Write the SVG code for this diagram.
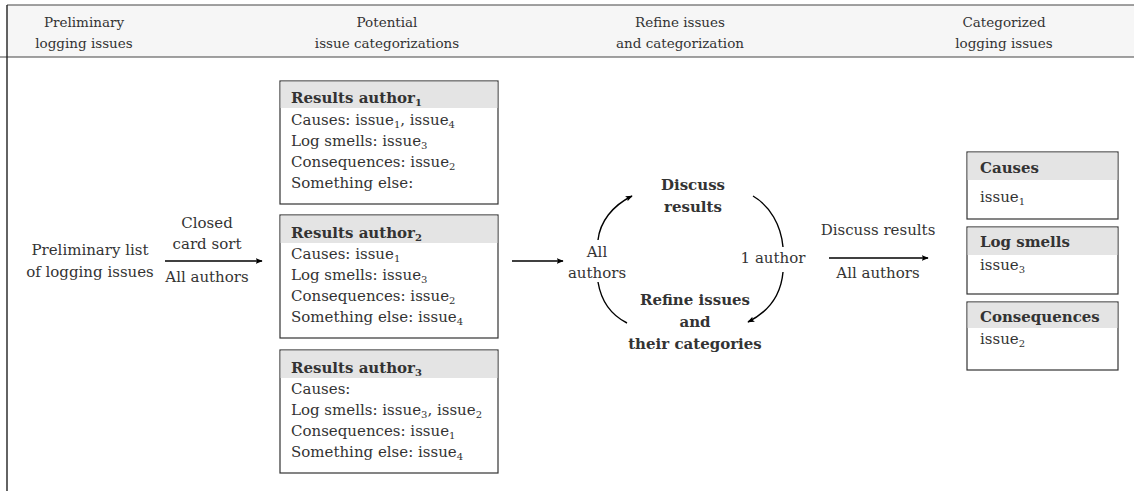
<svg xmlns="http://www.w3.org/2000/svg" width="1134" height="491" viewBox="0 0 1134 491">
<style>
text{font-family:"DejaVu Serif","Liberation Serif",serif;fill:#333;font-size:15px}
.hd{font-size:13.5px;text-anchor:middle}
.c{text-anchor:middle}
.b{font-weight:bold}
.box{fill:#fff;stroke:#333;stroke-width:1.2}
.bh{fill:#e4e4e4}
.ln{fill:none;stroke:#000;stroke-width:1.4}
.sb{font-size:10px}
</style>
<defs>
<marker id="ah" viewBox="0 0 10 10" refX="9" refY="5" markerWidth="7" markerHeight="7" orient="auto" markerUnits="userSpaceOnUse">
<path d="M0,1 L10,5 L0,9 L2,5 z" fill="#000"/>
</marker>
</defs>
<g id="header">
<rect x="7" y="5" width="1127" height="52" fill="#f6f6f6"/>
<line x1="7" y1="5" x2="1134" y2="5" stroke="#444" stroke-width="1.2"/>
<line x1="0" y1="57" x2="1134" y2="57" stroke="#444" stroke-width="1.2"/>
<line x1="7" y1="5" x2="7" y2="491" stroke="#222" stroke-width="1.4"/>
<text class="hd" x="84" y="27">Preliminary</text>
<text class="hd" x="84" y="48">logging issues</text>
<text class="hd" x="387" y="27">Potential</text>
<text class="hd" x="387" y="48">issue categorizations</text>
<text class="hd" x="680" y="27">Refine issues</text>
<text class="hd" x="680" y="48">and categorization</text>
<text class="hd" x="1004" y="27">Categorized</text>
<text class="hd" x="1004" y="48">logging issues</text>
</g>
<g id="prelim">
<text class="c" x="90" y="255">Preliminary list</text>
<text class="c" x="90" y="277">of logging issues</text>
</g>
<g id="author1">
<rect class="box" x="280" y="81" width="218" height="123"/>
<rect class="bh" x="280.6" y="81.6" width="216.8" height="26.4"/>
<text class="b" x="291" y="103">Results author<tspan class="sb" dy="3">1</tspan></text>
<text x="291" y="125">Causes: issue<tspan class="sb" dy="3">1</tspan><tspan dy="-3">, issue</tspan><tspan class="sb" dy="3">4</tspan></text>
<text x="291" y="146">Log smells: issue<tspan class="sb" dy="3">3</tspan></text>
<text x="291" y="167">Consequences: issue<tspan class="sb" dy="3">2</tspan></text>
<text x="291" y="188">Something else:</text>
</g>
<g id="author2">
<rect class="box" x="280" y="215" width="218" height="123"/>
<rect class="bh" x="280.6" y="215.6" width="216.8" height="27.4"/>
<text class="b" x="291" y="238">Results author<tspan class="sb" dy="3">2</tspan></text>
<text x="291" y="259">Causes: issue<tspan class="sb" dy="3">1</tspan></text>
<text x="291" y="280">Log smells: issue<tspan class="sb" dy="3">3</tspan></text>
<text x="291" y="301">Consequences: issue<tspan class="sb" dy="3">2</tspan></text>
<text x="291" y="322">Something else: issue<tspan class="sb" dy="3">4</tspan></text>
</g>
<g id="author3">
<rect class="box" x="280" y="350" width="218" height="123"/>
<rect class="bh" x="280.6" y="350.6" width="216.8" height="27.4"/>
<text class="b" x="291" y="373">Results author<tspan class="sb" dy="3">3</tspan></text>
<text x="291" y="394">Causes:</text>
<text x="291" y="415">Log smells: issue<tspan class="sb" dy="3">3</tspan><tspan dy="-3">, issue</tspan><tspan class="sb" dy="3">2</tspan></text>
<text x="291" y="436">Consequences: issue<tspan class="sb" dy="3">1</tspan></text>
<text x="291" y="457">Something else: issue<tspan class="sb" dy="3">4</tspan></text>
</g>
<g id="discuss">
<text class="c b" x="693" y="190">Discuss</text>
<text class="c b" x="693" y="212">results</text>
</g>
<g id="refine">
<text class="c b" x="695" y="305">Refine issues</text>
<text class="c b" x="695" y="327">and</text>
<text class="c b" x="695" y="349">their categories</text>
</g>
<g id="cat-causes">
<rect class="box" x="967" y="152" width="151" height="67"/>
<rect class="bh" x="967.6" y="152.6" width="149.8" height="27.4"/>
<text class="b" x="980" y="173">Causes</text>
<text x="980" y="202">issue<tspan class="sb" dy="3">1</tspan></text>
</g>
<g id="cat-smells">
<rect class="box" x="967" y="227" width="151" height="67"/>
<rect class="bh" x="967.6" y="227.6" width="149.8" height="27.4"/>
<text class="b" x="980" y="247">Log smells</text>
<text x="980" y="270">issue<tspan class="sb" dy="3">3</tspan></text>
</g>
<g id="cat-conseq">
<rect class="box" x="967" y="302" width="151" height="68"/>
<rect class="bh" x="967.6" y="302.6" width="149.8" height="25.4"/>
<text class="b" x="980" y="322">Consequences</text>
<text x="980" y="344">issue<tspan class="sb" dy="3">2</tspan></text>
</g>
<g id="connectors">
<line class="ln" x1="165" y1="261" x2="262" y2="261" marker-end="url(#ah)"/>
<text class="c" x="207" y="228">Closed</text>
<text class="c" x="207" y="249">card sort</text>
<text class="c" x="207" y="282">All authors</text>
<line class="ln" x1="512" y1="261" x2="563" y2="261" marker-end="url(#ah)"/>
<text class="c" x="597" y="257">All</text>
<text class="c" x="597" y="278">authors</text>
<path class="ln" d="M598,240 C600,222 612,206 632,196" marker-end="url(#ah)"/>
<path class="ln" d="M598,282 C601,300 611,315 627,323"/>
<path class="ln" d="M753,196 C770,206 781,225 783,247"/>
<path class="ln" d="M783,272 C781,295 768,312 748,322" marker-end="url(#ah)"/>
<text class="c" x="773" y="263">1 author</text>
<line class="ln" x1="829" y1="258" x2="928" y2="258" marker-end="url(#ah)"/>
<text class="c" x="878" y="235">Discuss results</text>
<text class="c" x="878" y="278">All authors</text>
</g>
</svg>
